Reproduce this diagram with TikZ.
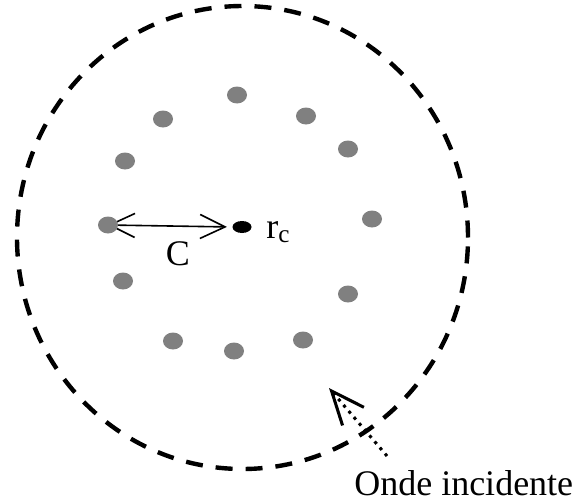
\documentclass[tikz,border=0pt]{standalone}
\usepackage{fontspec}
\setmainfont{Liberation Serif}
\usetikzlibrary{arrows.meta, shapes.geometric, backgrounds}
\definecolor{dotgray}{RGB}{128,128,128}
\tikzset{
  atom/.style={ellipse, fill=dotgray, inner sep=0pt, minimum width=15pt, minimum height=12.75pt},
  core/.style={ellipse, fill=black, inner sep=0pt, minimum width=14.25pt, minimum height=9pt},
  lbl/.style={font=\fontsize{27}{31}\selectfont, inner sep=0pt}
}

\begin{document}
\begin{tikzpicture}[x=0.75pt, y=0.75pt]
\useasboundingbox (0,0) rectangle (577,501);

\coordinate (O) at (242.5,263.5);
\coordinate (src) at (387,45);
\coordinate (tip) at (329,113);

% dashed boundary
\draw[line width=3.3pt, dash pattern=on 12.75pt off 9.75pt]
  (O) ellipse [x radius=225.5, y radius=231.5];

% scatterers round the centre
\node[core] (rc) at (242,274) {};
\foreach \x/\y [count=\i] in {237/406, 306/385, 348/352, 372/282, 348/207, 303/161,
                              234/150, 173/160, 123/220, 108/276, 125/340, 163/382}
  \node[atom] (a\i) at (\x,\y) {};

\begin{scope}[on background layer]
\draw[line width=1.2pt, {Straight Barb[length=18.75pt, width=18pt]}-{Straight Barb[length=18.75pt, width=18pt]},
  shorten >=4pt] (a10.center) -- (rc.west);
\end{scope}

\node[lbl] (clbl) at (178,247) {C};
\node[lbl, anchor=base west] (rclbl) at (266,263) {r\textsubscript{c}};

% incident wave
\draw[line width=2.3pt, dash pattern=on 2.3pt off 3.7pt,
  -{Straight Barb[length=25pt, width=21pt]}] (src) -- (tip);
\node[lbl, anchor=base west] (wave) at (354,6) {Onde incidente};
\end{tikzpicture}
\end{document}
